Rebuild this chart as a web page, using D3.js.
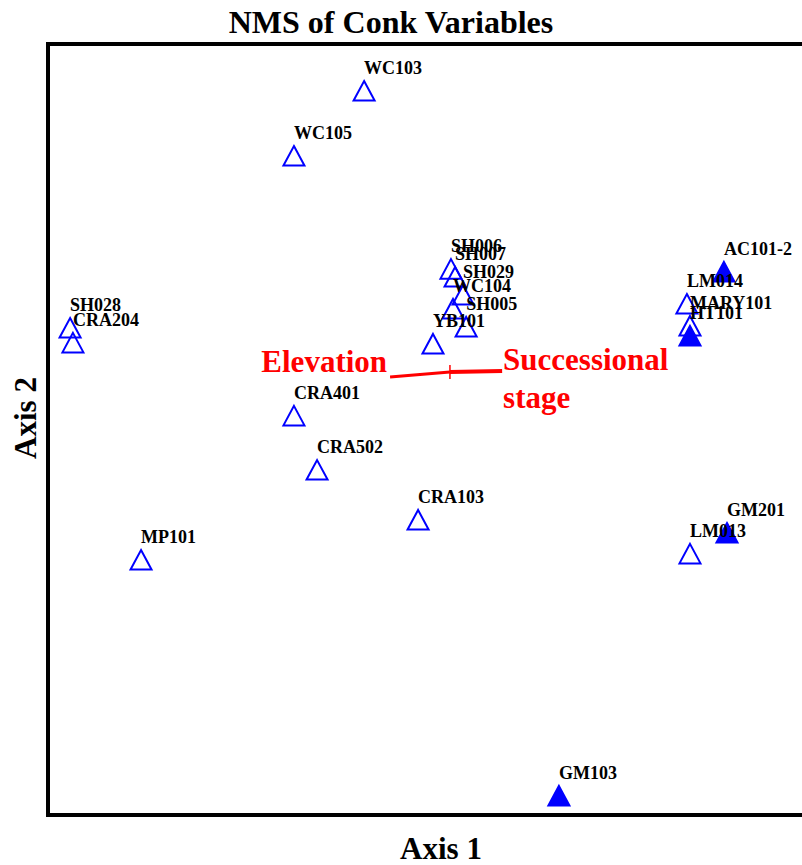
<!DOCTYPE html>
<html>
<head>
<meta charset="utf-8">
<script src="https://cdn.jsdelivr.net/npm/d3@7"></script>
<style>
  html, body { margin: 0; padding: 0; background: #fff; }
  svg { display: block; }
  text { font-family: "Liberation Serif", "Times New Roman", serif; font-weight: bold; }
</style>
</head>
<body>
<script>
// NMS ordination scores (Axis 1, Axis 2) for each stand
const stands = ["WC103","WC105","SH006","SH007","SH029","WC104","SH005","YB101",
                "SH028","CRA204","CRA401","CRA502","CRA103","MP101","LM013","GM201",
                "GM103","AC101-2","LM014","MARY101","HT101"];
const axis1 = [-0.270,-0.543, 0.068, 0.084, 0.115, 0.076, 0.127,-0.002,
               -1.414,-1.403,-0.543,-0.453,-0.060,-1.138, 0.998, 1.142,
                0.488, 1.130, 0.986, 0.998, 0.998];
const axis2 = [ 1.317, 1.064, 0.624, 0.593, 0.523, 0.469, 0.399, 0.333,
                0.395, 0.337, 0.053,-0.158,-0.352,-0.508,-0.484,-0.403,
               -1.426, 0.613, 0.488, 0.403, 0.364];
// 1 = filled symbol group, 0 = open symbol group
const group  = [0,0,0,0,0,0,0,0, 0,0,0,0,0,0,0,1, 1,1,0,0,1];

// Joint-plot vectors, drawn from the centroid
const vecOrigin = [0.064, 0.224];
const vecNames  = ["Elevation", "Successional stage"];
const vecAxis1  = [-0.169, 0.267];
const vecAxis2  = [ 0.204, 0.228];

const W = 802, H = 865;
const frame = { left: 48, top: 44, size: 771 };

const svg = d3.select("body").append("svg").attr("width", W).attr("height", H);

const x = d3.scaleLinear().domain([-1.5, 1.5]).range([frame.left, frame.left + frame.size]);
const y = d3.scaleLinear().domain([-1.5, 1.5]).range([frame.top + frame.size, frame.top]);

// Title and axis titles
svg.append("text").attr("x", 391).attr("y", 22).attr("dy", "0.35em")
  .attr("text-anchor", "middle").attr("font-size", 32).text("NMS of Conk Variables");
svg.append("text").attr("x", 441).attr("y", 848).attr("dy", "0.35em")
  .attr("text-anchor", "middle").attr("font-size", 31).text("Axis 1");
svg.append("text").attr("transform", "translate(25,418) rotate(-90)").attr("dy", "0.35em")
  .attr("text-anchor", "middle").attr("font-size", 31).text("Axis 2");

// Plot frame
svg.append("rect")
  .attr("x", x(-1.5)).attr("y", y(1.5))
  .attr("width", x(1.5) - x(-1.5)).attr("height", y(-1.5) - y(1.5))
  .attr("fill", "none").attr("stroke", "#000").attr("stroke-width", 4);

// Vectors
const g = svg.append("g");
const ox = x(vecOrigin[0]), oy = y(vecOrigin[1]);
g.append("line")
  .attr("x1", ox).attr("y1", oy)
  .attr("x2", x(vecAxis1[0])).attr("y2", y(vecAxis2[0]))
  .attr("stroke", "red").attr("stroke-width", 3);
g.append("line")
  .attr("x1", ox).attr("y1", oy)
  .attr("x2", x(vecAxis1[1])).attr("y2", y(vecAxis2[1]))
  .attr("stroke", "red").attr("stroke-width", 4);
g.append("line")
  .attr("x1", ox).attr("y1", oy - 7)
  .attr("x2", ox).attr("y2", oy + 7)
  .attr("stroke", "red").attr("stroke-width", 1.5);

g.append("text").attr("x", x(vecAxis1[0]) - 3).attr("y", y(vecAxis2[0]) - 16).attr("dy", "0.35em")
  .attr("text-anchor", "end").attr("font-size", 31).attr("fill", "red").text(vecNames[0]);
const words = vecNames[1].split(" ");
g.append("text").attr("x", x(vecAxis1[1]) + 1).attr("y", y(vecAxis2[1]) - 12).attr("dy", "0.35em")
  .attr("text-anchor", "start").attr("font-size", 31).attr("fill", "red").text(words[0]);
g.append("text").attr("x", x(vecAxis1[1]) + 1).attr("y", y(vecAxis2[1]) + 26).attr("dy", "0.35em")
  .attr("text-anchor", "start").attr("font-size", 31).attr("fill", "red").text(words[1]);

// Points
const pts = stands.map((s, i) => ({ name: s, a1: axis1[i], a2: axis2[i], grp: group[i] }));
const tri = (cx, cy) => `M${cx},${cy - 10}L${cx + 10.5},${cy + 9.5}L${cx - 10.5},${cy + 9.5}Z`;

svg.append("g").selectAll("path").data(pts).join("path")
  .attr("d", d => tri(x(d.a1), y(d.a2)))
  .attr("fill", d => d.grp ? "#0000ff" : "none")
  .attr("stroke", "#0000ff").attr("stroke-width", 2)
  .attr("stroke-linejoin", "miter");

svg.append("g").selectAll("text").data(pts).join("text")
  .attr("x", d => x(d.a1)).attr("y", d => y(d.a2) - 23).attr("dy", "0.35em")
  .attr("font-size", 18).attr("fill", "#000").text(d => d.name);
</script>
</body>
</html>
